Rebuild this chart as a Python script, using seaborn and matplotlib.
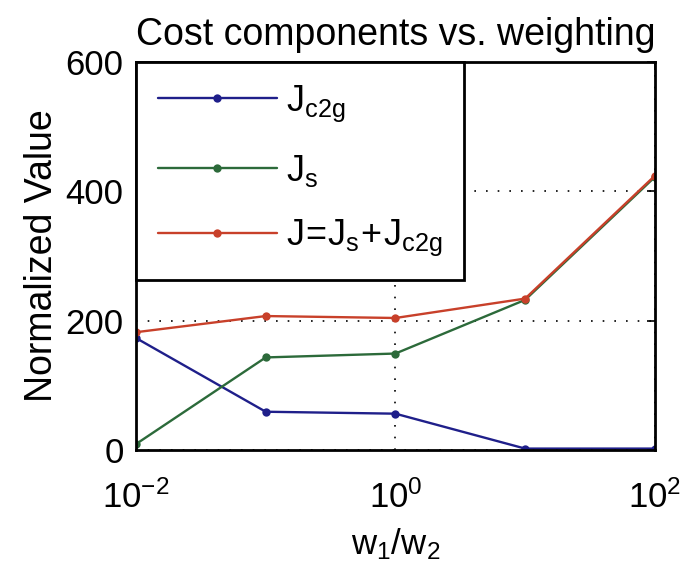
import matplotlib
matplotlib.use("Agg")
import matplotlib.pyplot as plt
import seaborn as sns
import pandas as pd
from matplotlib.ticker import FixedLocator, NullLocator

# weighting ratio w1/w2 and the normalized cost components
weights = [0.01, 0.1, 1.0, 10.0, 100.0]
j_c2g = [173, 59, 56, 2, 2]
j_s = [9, 143, 149, 232, 422]
j_total = [182, 207, 204, 234, 424]

series_names = [r"$\mathregular{J_{c2g}}$",
                r"$\mathregular{J_s}$",
                r"$\mathregular{J\!=\!J_s\!+\!J_{c2g}}$"]
series_colors = ["#1f1f8a", "#2c6a3a", "#c8402a"]

x_ticks = [0.01, 1.0, 100.0]
x_labels = [r"$\mathregular{10^{-2}}$", r"$\mathregular{10^{0}}$", r"$\mathregular{10^{2}}$"]
y_ticks = [0, 200, 400, 600]

frames = []
for name, vals in zip(series_names, [j_c2g, j_s, j_total]):
    frames.append(pd.DataFrame({"w": weights, "value": vals, "series": name}))
df = pd.concat(frames, ignore_index=True)

sns.set_theme(style="white")
plt.rcParams["font.family"] = ["Liberation Sans", "DejaVu Sans"]
plt.rcParams["mathtext.fontset"] = "custom"
plt.rcParams["mathtext.rm"] = "Liberation Sans"
plt.rcParams["text.color"] = "black"
plt.rcParams["axes.labelcolor"] = "black"
plt.rcParams["axes.titlecolor"] = "black"

fig = plt.figure(figsize=(6.8, 5.79), dpi=100)
ax = fig.add_axes([0.2, 0.223, 0.763, 0.670])

sns.lineplot(data=df, x="w", y="value", hue="series", palette=series_colors,
             hue_order=series_names, marker="o", markersize=6, markeredgewidth=0,
             linewidth=1.7, ax=ax, legend=True)

ax.set_xscale("log")
ax.set_xlim(0.01, 100)
ax.set_ylim(0, 600)
ax.xaxis.set_major_locator(FixedLocator(x_ticks))
ax.xaxis.set_minor_locator(NullLocator())
ax.set_xticklabels(x_labels)
ax.yaxis.set_major_locator(FixedLocator(y_ticks))

ax.grid(True, which="major", color="black", linestyle=(0, (1, 6)), linewidth=1.2)
ax.set_axisbelow(True)

for side in ax.spines.values():
    side.set_visible(True)
    side.set_color("black")
    side.set_linewidth(2.0)

ax.tick_params(axis="both", which="major", direction="in", length=6, width=1.2,
               top=True, right=True, labelsize=25, colors="black")
ax.tick_params(axis="x", pad=22)
ax.tick_params(axis="y", pad=9)

ax.set_title("Cost components vs. weighting", fontsize=27, pad=12, color="black")
ax.set_xlabel(r"$\mathregular{w_1/w_2}$", fontsize=25, labelpad=8, color="black")
ax.set_ylabel("Normalized Value", fontsize=27, labelpad=4, color="black")

leg = ax.legend(loc="upper left", fontsize=26, frameon=True, fancybox=False,
                borderaxespad=0.0, handlelength=3.3, handletextpad=0.25,
                labelspacing=0.8, borderpad=0.6)
frame = leg.get_frame()
frame.set_edgecolor("black")
frame.set_linewidth(2.0)
frame.set_facecolor("white")
frame.set_alpha(1.0)

fig.savefig("out.png", dpi=100)
